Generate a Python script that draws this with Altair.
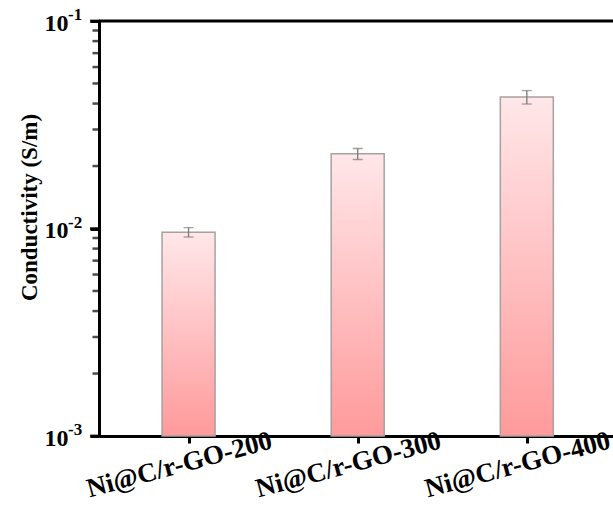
import altair as alt
import pandas as pd

# Samples and measured conductivity (S/m) with standard deviations
samples = ["Ni@C/r-GO-200", "Ni@C/r-GO-300", "Ni@C/r-GO-400"]
conductivity = [0.0096, 0.0229, 0.0430]
error = [0.0005, 0.0014, 0.0032]

# Log axis: decades plus minor ticks
decades = [0.001, 0.01, 0.1]
exponents = ["-3", "-2", "-1"]
minor_ticks = [m * d for d in [0.001, 0.01] for m in range(2, 10)]

df = pd.DataFrame({
    "idx": list(range(len(samples))),
    "sample": samples,
    "value": conductivity,
    "lo": [v - e for v, e in zip(conductivity, error)],
    "hi": [v + e for v, e in zip(conductivity, error)],
})
dec_df = pd.DataFrame({"value": decades, "exp": exponents})
minor_df = pd.DataFrame({"value": minor_ticks})

FONT = "Liberation Serif"
names_js = "[" + ",".join("'" + s + "'" for s in samples) + "]"

yscale = alt.Scale(type="log", domain=[0.001, 0.1], nice=False)
xscale = alt.Scale(domain=[-0.5, 2.48], nice=False, zero=False)

x_axis = alt.Axis(
    values=list(range(len(samples))),
    labelExpr=names_js + "[datum.value]",
    title=None, grid=False, labelOverlap=False, labelLimit=0,
    domainWidth=3, domainColor="black",
    tickSize=7, tickWidth=3, tickColor="black",
    labelFont=FONT, labelFontSize=27, labelFontWeight="bold",
    labelAngle=345, labelAlign="center", labelBaseline="top",
    labelOffset=-13, labelPadding=9, labelColor="black",
)
y_axis = alt.Axis(
    values=decades,
    labelExpr="'10'",
    title="Conductivity (S/m)", grid=False, labelOverlap=False,
    domainWidth=3, domainColor="black",
    tickWidth=3, tickColor="black", tickSize=9,
    labelFont=FONT, labelFontSize=24, labelFontWeight="bold",
    labelPadding=22, labelOffset=2, labelColor="black", labelBaseline="middle",
    titleFont=FONT, titleFontSize=23, titleFontWeight="bold", titleColor="black",
    titleAngle=270, titleAlign="center", titleBaseline="middle",
    titleX=-70, titleY=186,
)

gradient = {
    "gradient": "linear", "x1": 0, "y1": 0, "x2": 0, "y2": 1,
    "stops": [
        {"offset": 0, "color": "#FFE7E9"},
        {"offset": 1, "color": "#FF9A9B"},
    ],
}

base = alt.Chart(df)
X = alt.X("idx:Q", scale=xscale, axis=x_axis)

bars = base.mark_bar(size=53, color=gradient, stroke="#A9A0A0", strokeWidth=1.5).encode(
    x=X,
    y=alt.Y("value:Q", scale=yscale, axis=y_axis),
    y2=alt.datum(0.001),
)

# Error bars: vertical stem plus caps
ERR = "#7A7A7A"
stem = base.mark_rule(color=ERR, strokeWidth=1.3).encode(
    x=X, y=alt.Y("lo:Q", scale=yscale, axis=y_axis), y2="hi:Q",
)
cap_hi = base.mark_tick(color=ERR, size=10, thickness=1.3, orient="horizontal").encode(
    x=X, y=alt.Y("hi:Q", scale=yscale, axis=y_axis),
)
cap_lo = base.mark_tick(color=ERR, size=10, thickness=1.3, orient="horizontal").encode(
    x=X, y=alt.Y("lo:Q", scale=yscale, axis=y_axis),
)

# Log ticks on the left spine, pointing outward
minor = alt.Chart(minor_df).mark_tick(
    color="black", size=7, thickness=2.5, orient="horizontal", clip=False,
).encode(
    x=alt.value(-3),
    y=alt.Y("value:Q", scale=yscale, axis=y_axis),
)
major = alt.Chart(dec_df).mark_tick(
    color="black", size=10, thickness=3, orient="horizontal", clip=False,
).encode(
    x=alt.value(-4),
    y=alt.Y("value:Q", scale=yscale, axis=y_axis),
)

# Superscript exponents next to the "10" tick labels
sup = alt.Chart(dec_df).mark_text(
    align="left", baseline="middle", font=FONT, fontSize=17,
    fontWeight="bold", color="black", dy=-6,
).encode(
    x=alt.value(-31),
    y=alt.Y("value:Q", scale=yscale, axis=y_axis),
    text="exp:N",
)

# Top frame line
top = alt.Chart(dec_df).mark_rule(color="black", strokeWidth=3).encode(
    y=alt.Y("value:Q", scale=yscale, axis=y_axis),
).transform_filter("datum.value == 0.1")

chart = alt.layer(bars, stem, cap_hi, cap_lo, minor, major, top, sup).properties(
    width=514, height=415,
    autosize=alt.AutoSizeParams(type="none"),
    padding={"left": 99, "top": 21, "right": 0, "bottom": 82},
).configure_view(stroke=None).configure(background="white")

chart.save("out.html", embed_options={"renderer": "svg", "actions": False})
